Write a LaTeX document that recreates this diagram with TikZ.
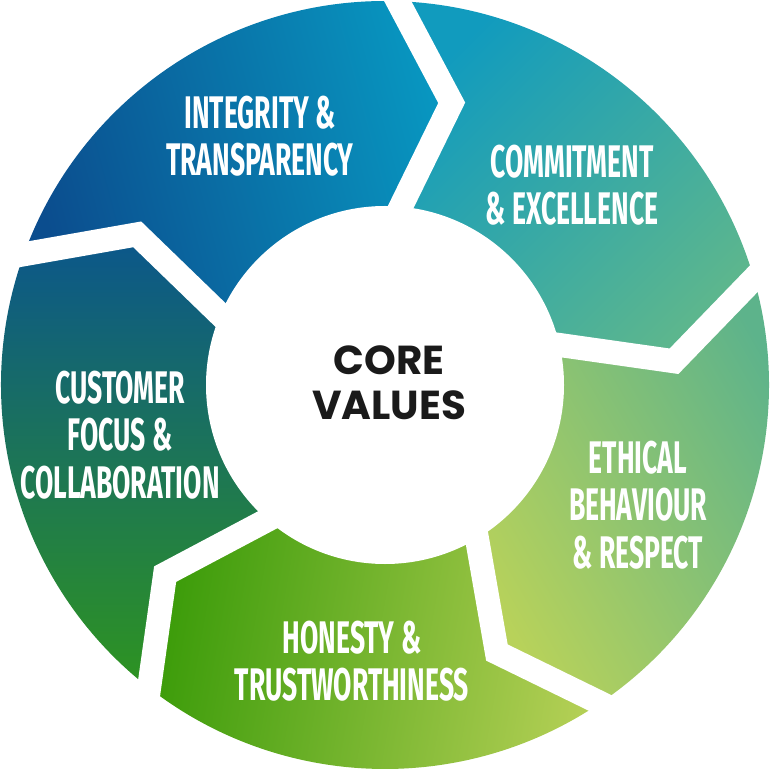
\documentclass[tikz,border=0pt]{standalone}
\usepackage{fontspec}
\setmainfont{Fira Sans}
\newfontfamily\corefont{Poppins}
\usetikzlibrary{positioning}
\definecolor{intA}{HTML}{0896C0}
\definecolor{intB}{HTML}{0B4D8E}
\definecolor{comA}{HTML}{119BBE}
\definecolor{comB}{HTML}{5CB68E}
\definecolor{ethA}{HTML}{5DB38B}
\definecolor{ethB}{HTML}{B8D25A}
\definecolor{honA}{HTML}{B3CF55}
\definecolor{honB}{HTML}{3C9C0A}
\definecolor{cusA}{HTML}{0B568C}
\definecolor{cusB}{HTML}{2E9420}
\definecolor{coretext}{HTML}{1A1A1A}

\begin{document}
\begin{tikzpicture}[x=0.01cm,y=0.01cm,
    gap/.style={white,line width=0.24cm,line join=miter},
    lbl/.style={text=white,align=center,xscale=0.58,
      font=\bfseries\fontsize{13}{13.55}\selectfont}]
    \useasboundingbox[fill=white] (-385,-385) rectangle (385,385);
    % five chevron segments
    \foreach \a/\ca/\cb/\sa in {160.2/intA/intB/-75,88.2/comA/comB/45,16.2/ethA/ethB/-60,-55.8/honA/honB/-100,-127.8/cusA/cusB/0}
    {\path[top color=\ca,bottom color=\cb,shading angle=\sa]
      (\a:384) arc[start angle=\a,end angle=\a-72,radius=384]
      -- (\a-83.5:290) -- (\a-75:170) arc[start angle=\a-75,end angle=\a-3,radius=170]
      -- (\a-11.5:290) -- cycle;}
    \foreach \a in {160.2,88.2,16.2,-55.8,-127.8}
    {\draw[gap] (\a+1.2:400) -- (\a-11.5:290) -- (\a:156);}
    \fill[white] (0,0) circle[radius=179];

    \node[lbl] (integrity) at (-125,249) {INTEGRITY \&\\TRANSPARENCY};
    \node[lbl] (commitment) at (187,200) {COMMITMENT\\\& EXCELLENCE};
    \node[lbl] (ethical) at (253,-120) {ETHICAL\\BEHAVIOUR\\\& RESPECT};
    \node[lbl] (honesty) at (-33,-276) {HONESTY \&\\TRUSTWORTHINESS};
    \node[lbl] (customer) at (-265,-50) {CUSTOMER\\FOCUS \&\\COLLABORATION};
    \node[align=center,text=coretext,font=\corefont\bfseries\fontsize{11.5}{12.8}\selectfont] (core) at (4,2) {CORE\\VALUES};
\end{tikzpicture}
\end{document}
